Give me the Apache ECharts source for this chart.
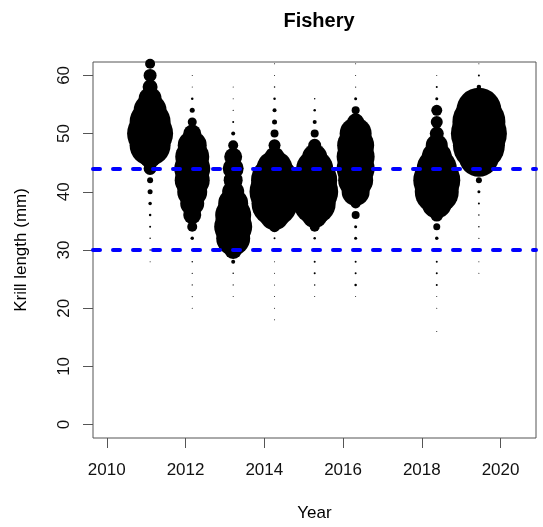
<!DOCTYPE html>
<html>
<head>
<meta charset="utf-8">
<script src="https://cdn.jsdelivr.net/npm/echarts@6/dist/echarts.min.js"></script>
<style>
  html, body { margin: 0; padding: 0; background: #fff; }
  #chart { width: 543px; height: 527px; }
</style>
</head>
<body>
<div id="chart"></div>
<script>
// Krill length-frequency bubbles by fishing season.
// Length bins (mm), 2 mm wide
const lengthBins = [16, 18, 20, 22, 24, 26, 28, 30, 32, 34, 36, 38, 40, 42, 44, 46, 48, 50, 52, 54, 56, 58, 60, 62];

// Season labels and their plotted position on the year axis
const seasons = ['2011', '2012', '2013', '2014', '2015', '2016', '2018', '2019'];
const seasonPos = [2011.10, 2012.17, 2013.21, 2014.26, 2015.28, 2016.32, 2018.38, 2019.45];

// Bubble diameter per length bin (0 = no krill in that bin)
const size2011 = [0, 0, 0, 0, 0, 0, 1, 1.5, 1.5, 2, 2.5, 3.5, 5, 6, 13, 22, 41, 46, 41, 33, 23, 15, 13, 10];
const size2012 = [0, 0, 1, 1.2, 1.2, 1.2, 1.5, 2, 3.5, 10, 18, 24, 30, 35, 36, 34, 29, 18, 9, 5, 2.5, 1, 1, 0];
const size2013 = [0, 0, 0, 1, 1.2, 1.5, 4, 18, 34, 38, 36, 30, 22, 19, 21, 18, 10, 4, 2, 1.2, 1, 1, 0, 0];
const size2014 = [0, 1, 1, 1, 1, 1, 1, 1, 2, 11, 30, 46, 50, 47, 36, 20, 12, 8, 5, 4, 2.5, 1.5, 1, 1];
const size2015 = [0, 0, 0, 1, 1.5, 2, 2, 2, 2.5, 10, 26, 42, 47, 45, 37, 25, 13, 8, 4, 2.5, 1.5, 0, 0, 0];
const size2016 = [0, 0, 0, 1, 2.5, 2, 2, 2, 3, 3, 8, 10, 28, 35, 38, 38, 37, 32, 17, 8, 3, 1.2, 1, 1];
const size2018 = [1, 0, 1, 1, 2, 2, 2, 2, 3.5, 7, 13, 30, 44, 47, 40, 30, 22, 14, 12, 11, 3, 2, 1, 0];
const size2019 = [0, 0, 0, 0, 0, 1, 1, 1, 1.2, 1.5, 1.5, 2, 3, 6, 14, 40, 52, 56, 53, 45, 20, 4.5, 2, 1];
const sizesBySeason = [size2011, size2012, size2013, size2014, size2015, size2016, size2018, size2019];

// Management reference lengths (mm)
const refLengths = [44, 30];

// Axis ticks
const yearTicks = [2010, 2012, 2014, 2016, 2018, 2020];
const lengthTicks = [0, 10, 20, 30, 40, 50, 60];

const FONT = 'Liberation Sans, Arial, Helvetica, sans-serif';

const bubbleSeries = seasons.map((name, s) => {
  const data = [];
  sizesBySeason[s].forEach((d, i) => {
    if (d > 0) data.push([seasonPos[s], lengthBins[i], d]);
  });
  return {
    name: name,
    type: 'scatter',
    data: data,
    symbol: 'circle',
    symbolSize: v => v[2],
    itemStyle: { color: '#000', opacity: 1 },
    silent: true,
    clip: true,
    z: 2
  };
});

const refSeries = {
  type: 'scatter',
  data: [],
  silent: true,
  z: 10,
  markLine: {
    silent: true,
    symbol: ['none', 'none'],
    label: { show: false },
    lineStyle: { color: '#0000ff', width: 4, type: [7, 13], cap: 'round' },
    data: refLengths.map(v => ({ yAxis: v }))
  }
};

const chart = echarts.init(document.getElementById('chart'), null, { renderer: 'canvas' });
chart.setOption({
  animation: false,
  backgroundColor: '#fff',
  title: {
    text: 'Fishery',
    left: 314,
    top: 6,
    textAlign: 'center',
    textStyle: { fontFamily: FONT, fontSize: 20, fontWeight: 'bold', color: '#000' }
  },
  grid: {
    left: 93, right: 7, top: 62, bottom: 88,
    show: true, borderColor: '#555', borderWidth: 1, backgroundColor: 'transparent'
  },
  xAxis: {
    type: 'value',
    min: 2009.65,
    max: 2020.9,
    name: 'Year',
    nameLocation: 'middle',
    nameGap: 67,
    nameTextStyle: { fontFamily: FONT, fontSize: 17, color: '#000' },
    axisLine: { show: false, onZero: false },
    splitLine: { show: false },
    axisTick: { show: true, inside: false, length: 10, customValues: yearTicks,
                lineStyle: { color: '#555', width: 1 } },
    axisLabel: { customValues: yearTicks, margin: 24, fontFamily: FONT, fontSize: 17, color: '#111',
                 formatter: v => String(v) }
  },
  yAxis: {
    type: 'value',
    min: -2.3,
    max: 62.3,
    name: 'Krill length (mm)',
    nameLocation: 'middle',
    nameGap: 63,
    nameRotate: 90,
    nameTextStyle: { fontFamily: FONT, fontSize: 17, color: '#000' },
    axisLine: { show: false, onZero: false },
    splitLine: { show: false },
    axisTick: { show: true, inside: false, length: 10, customValues: lengthTicks,
                lineStyle: { color: '#555', width: 1 } },
    axisLabel: { customValues: lengthTicks, rotate: 90, margin: 20, fontFamily: FONT, fontSize: 17, color: '#111',
                 formatter: v => String(v) }
  },
  series: bubbleSeries.concat([refSeries])
});
</script>
</body>
</html>
